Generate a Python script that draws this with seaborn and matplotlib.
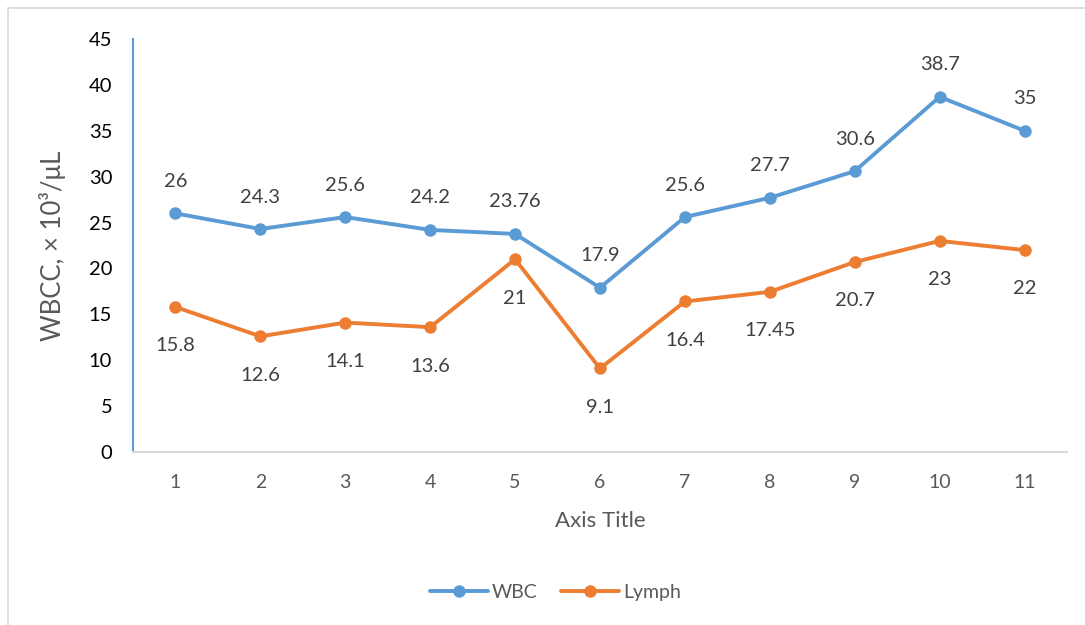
import pandas as pd
import matplotlib.pyplot as plt
import seaborn as sns
from matplotlib.patches import Rectangle

categories = ['1', '2', '3', '4', '5', '6', '7', '8', '9', '10', '11']
wbc = [26, 24.3, 25.6, 24.2, 23.76, 17.9, 25.6, 27.7, 30.6, 38.7, 35]
lymph = [15.8, 12.6, 14.1, 13.6, 21, 9.1, 16.4, 17.45, 20.7, 23, 22]
wbc_labels = ['26', '24.3', '25.6', '24.2', '23.76', '17.9', '25.6', '27.7', '30.6', '38.7', '35']
lymph_labels = ['15.8', '12.6', '14.1', '13.6', '21', '9.1', '16.4', '17.45', '20.7', '23', '22']

sns.set_theme(style='white')
plt.rcParams['font.family'] = ['Lato', 'DejaVu Sans']

df = pd.DataFrame({'x': range(len(categories)), 'WBC': wbc, 'Lymph': lymph})
long = df.melt(id_vars='x', var_name='series', value_name='val')

fig = plt.figure(figsize=(10.85, 6.25), dpi=100)
ax = fig.add_axes([133/1085, 1-452/625, (1067-133)/1085, (452-39)/625])

# outer chart border
fig.patches.append(Rectangle((8/1085, -0.1), 1.2, 1-8/625+0.1, transform=fig.transFigure,
                             fill=False, edgecolor='#D9D9D9', linewidth=1.2))

colors = {'WBC': '#5B9BD5', 'Lymph': '#ED7D31'}
sns.lineplot(data=long, x='x', y='val', hue='series', palette=colors, marker='o',
             markersize=9, markeredgewidth=0, linewidth=2.8, ax=ax)

for i, (v, t) in enumerate(zip(wbc, wbc_labels)):
    ax.annotate(t, (i, v), xytext=(0, 23), textcoords='offset points', ha='center',
                va='center', fontsize=14.5, color='#404040')
for i, (v, t) in enumerate(zip(lymph, lymph_labels)):
    ax.annotate(t, (i, v), xytext=(0, -28), textcoords='offset points', ha='center',
                va='center', fontsize=14.5, color='#404040')

ax.set_xlim(-0.5, len(categories) - 0.5)
ax.set_ylim(0, 45)
ax.set_yticks(range(0, 46, 5))
ax.set_xticks(range(len(categories)))
ax.set_xticklabels(categories)
ax.set_xticks([i - 0.5 for i in range(len(categories) + 1)], minor=True)
ax.tick_params(axis='x', which='major', length=0, pad=16, labelsize=14, labelcolor='#595959')
ax.tick_params(axis='x', which='minor', length=7, width=1, color='#D9D9D9', direction='out')
ax.tick_params(axis='y', length=7, width=1, color='#9DC3E6', direction='out', labelsize=14.5,
               labelcolor='#000000', pad=8)

for s in ['top', 'right']:
    ax.spines[s].set_visible(False)
ax.spines['left'].set_color('#5B9BD5')
ax.spines['left'].set_linewidth(1.5)
ax.spines['bottom'].set_color('#D9D9D9')
ax.spines['bottom'].set_linewidth(1.5)

ax.set_xlabel('Axis Title', fontsize=16, color='#595959', labelpad=14)
ax.set_ylabel('WBCC, × 10³/μL', fontsize=18.5, color='#595959', labelpad=16)

ax.legend(loc='center', bbox_to_anchor=(0.452, -0.339), ncol=2, frameon=False, fontsize=14,
          handlelength=3.0, columnspacing=1.2, handletextpad=0.2, labelcolor='#595959')

fig.savefig('out.png', dpi=100)
